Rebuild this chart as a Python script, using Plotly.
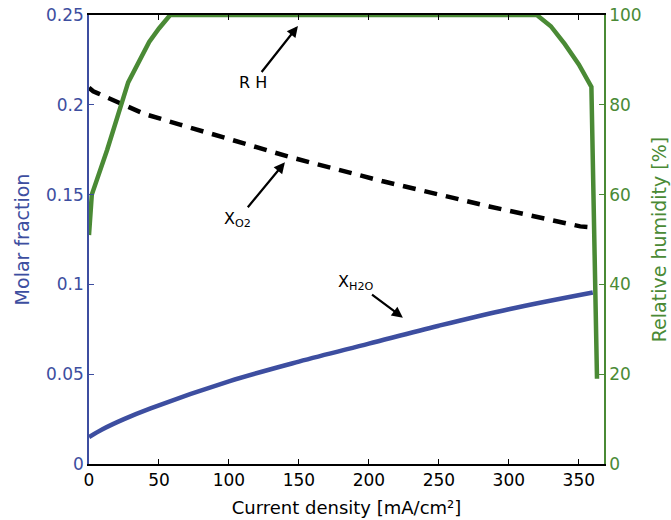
import plotly.graph_objects as go

# Data
rh_x = [0, 2, 13, 28, 43, 50, 58, 320, 330, 340, 350, 359, 363]
rh_y = [51, 60, 70, 85, 94, 97, 100, 100, 97.5, 93.5, 89, 84, 19]

o2_x = [0, 3, 6, 20, 40, 65, 100, 144, 210, 286, 351, 360]
o2_y = [0.2095, 0.2075, 0.2065, 0.2015, 0.1948, 0.189, 0.181, 0.1708, 0.1574, 0.1434, 0.1323, 0.1317]

h2o_x = [0, 10, 25, 44, 100, 150, 200, 250, 300, 360]
h2o_y = [0.015, 0.0195, 0.025, 0.031, 0.046, 0.057, 0.067, 0.0770, 0.0862, 0.0955]

x_ticks = [0, 50, 100, 150, 200, 250, 300, 350]
y_ticks = [0, 0.05, 0.1, 0.15, 0.2, 0.25]
y2_ticks = [0, 20, 40, 60, 80, 100]

BLUE = "#3d4ea0"
GREEN = "#4a8a35"
FONT = "DejaVu Sans, sans-serif"

fig = go.Figure()
fig.add_trace(go.Scatter(x=h2o_x, y=h2o_y, mode="lines", line=dict(color=BLUE, width=4.5, shape="spline"), showlegend=False))
fig.add_trace(go.Scatter(x=o2_x, y=o2_y, mode="lines", line=dict(color="black", width=4.5, dash="13px,9px"), showlegend=False))
fig.add_trace(go.Scatter(x=rh_x, y=rh_y, mode="lines", yaxis="y2", line=dict(color=GREEN, width=4.5), showlegend=False))

fig.update_layout(
    width=671, height=520,
    margin=dict(l=89, r=67, t=15, b=56, autoexpand=False),
    plot_bgcolor="white", paper_bgcolor="white",
    font=dict(family=FONT, size=17, color="black"),
    xaxis=dict(range=[0, 368], tickvals=x_ticks, ticks="inside", ticklen=5, tickcolor="black",
               showline=True, linecolor="black", linewidth=1.5, mirror="ticks", showgrid=False, zeroline=False,
               automargin=False,
               title=dict(text="Current density [mA/cm²]", font=dict(size=18), standoff=12),
               tickfont=dict(size=17, color="black")),
    yaxis=dict(range=[0, 0.25], tickvals=y_ticks, ticks="inside", ticklen=5, tickcolor=BLUE,
               showline=True, linecolor=BLUE, linewidth=1.5, showgrid=False, zeroline=False,
               automargin=False,
               tickfont=dict(size=17, color=BLUE),
               title=dict(text="Molar fraction", font=dict(size=19, color=BLUE), standoff=11)),
    yaxis2=dict(range=[0, 100], tickvals=y2_ticks, ticks="inside", ticklen=5, tickcolor=GREEN,
                showline=True, linecolor=GREEN, linewidth=1.5, showgrid=False, zeroline=False,
                overlaying="y", side="right", anchor="x", automargin=False,
                tickfont=dict(size=17, color=GREEN),
                title=dict(text="Relative humidity [%]", font=dict(size=19, color=GREEN), standoff=12)),
)

arrow = dict(showarrow=True, arrowhead=2, arrowsize=1, arrowwidth=2.2, arrowcolor="black",
             axref="pixel", ayref="pixel", xref="x", yref="y", font=dict(size=16))
fig.add_annotation(x=149.3, y=0.2439, ax=-45, ay=57, text="R H", **arrow)
fig.add_annotation(x=140, y=0.168, ax=-47, ay=57, text="X<sub>O2</sub>", **arrow)
fig.add_annotation(x=224.3, y=0.0815, ax=-47, ay=-35, text="X<sub>H2O</sub>", **arrow)

fig.write_html("out.html")
